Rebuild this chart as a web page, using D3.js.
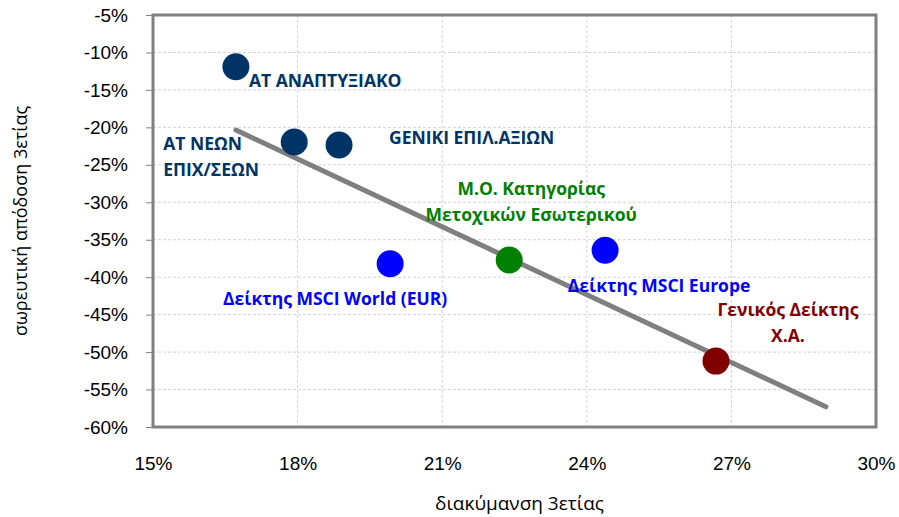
<!DOCTYPE html>
<html>
<head>
<meta charset="utf-8">
<script src="https://cdn.jsdelivr.net/npm/d3@7"></script>
<style>
  body { margin: 0; background: #fff; }
  svg { font-family: "Open Sans", "Noto Sans", sans-serif; }
  .grid line { stroke: #d4d4d4; stroke-dasharray: 3 2; }
  .tick text { font-size: 19px; fill: #000; }
</style>
</head>
<body>
<svg width="899" height="517"></svg>
<script>
// data (x = volatility %, y = 3y cumulative return %)
const names = [
  ["ΑΤ ΑΝΑΠΤΥΞΙΑΚΟ"],
  ["ΑΤ ΝΕΩΝ", "ΕΠΙΧ/ΣΕΩΝ"],
  ["GENIKI ΕΠΙΛ.ΑΞΙΩΝ"],
  ["Δείκτης MSCI World (EUR)"],
  ["Μ.Ο. Κατηγορίας", "Μετοχικών Εσωτερικού"],
  ["Δείκτης MSCI Europe"],
  ["Γενικός Δείκτης", "Χ.Α."]
];
const volatility = [16.72, 17.93, 18.86, 19.92, 22.39, 24.38, 26.68];
const returns = [-11.9, -21.96, -22.36, -38.2, -37.7, -36.4, -51.2];
const trendX = [16.72, 28.96];
const trendY = [-20.35, -57.3];
const xTicks = [15, 18, 21, 24, 27, 30];
const yTicks = [-5, -10, -15, -20, -25, -30, -35, -40, -45, -50, -55, -60];

const colors = ["#003366", "#003366", "#003366", "#0000ff", "#008000", "#0000ff", "#800000"];
// label placement relative to the marker: [dx, dy of first line, anchor]
const labelPos = [
  [13, 15, "start"],
  [-131, 3, "start"],
  [50, -6, "start"],
  [-55, 36, "middle"],
  [22, -70, "middle"],
  [54, 37, "middle"],
  [72, -50, "middle"]
];

const svg = d3.select("svg");
const pLeft = 153, pRight = 876, pTop = 15, pBottom = 427;

const x = d3.scaleLinear().domain([15, 30]).range([pLeft, pRight]);
const y = d3.scaleLinear().domain([-5, -60]).range([pTop, pBottom]);

// gridlines
svg.append("g").attr("class", "grid")
  .selectAll("line").data(yTicks.slice(1, -1)).enter().append("line")
  .attr("x1", pLeft).attr("x2", pRight)
  .attr("y1", d => y(d)).attr("y2", d => y(d));
svg.append("g").attr("class", "grid")
  .selectAll("line").data(xTicks.slice(1, -1)).enter().append("line")
  .attr("y1", pTop).attr("y2", pBottom)
  .attr("x1", d => x(d)).attr("x2", d => x(d));

// axes
const yAxis = svg.append("g")
  .attr("transform", `translate(${pLeft},0)`)
  .call(d3.axisLeft(y).tickValues(yTicks).tickSize(7).tickPadding(18).tickFormat(d => d + "%"));
yAxis.select(".domain").remove();
yAxis.selectAll(".tick line").attr("stroke", "#808080");
yAxis.selectAll(".tick text").attr("x", -25);

const xAxis = svg.append("g")
  .attr("transform", `translate(0,${pBottom})`)
  .call(d3.axisBottom(x).tickValues(xTicks).tickSize(0).tickPadding(30).tickFormat(d => d + "%"));
xAxis.select(".domain").remove();

// plot border
svg.append("rect")
  .attr("x", pLeft).attr("y", pTop)
  .attr("width", pRight - pLeft).attr("height", pBottom - pTop)
  .attr("fill", "none").attr("stroke", "#808080").attr("stroke-width", 3);

// trendline
svg.append("line")
  .attr("x1", x(trendX[0])).attr("y1", y(trendY[0]))
  .attr("x2", x(trendX[1])).attr("y2", y(trendY[1]))
  .attr("stroke", "#7f7f7f").attr("stroke-width", 5).attr("stroke-linecap", "round");

// markers
svg.append("g").selectAll("circle")
  .data(volatility).enter().append("circle")
  .attr("cx", d => x(d))
  .attr("cy", (d, i) => y(returns[i]))
  .attr("r", 13.5)
  .attr("fill", (d, i) => colors[i]);

// labels
const labels = svg.append("g").selectAll("text")
  .data(names).enter().append("text")
  .attr("x", (d, i) => x(volatility[i]) + labelPos[i][0])
  .attr("y", (d, i) => y(returns[i]) + labelPos[i][1])
  .attr("text-anchor", (d, i) => labelPos[i][2])
  .attr("dominant-baseline", "middle")
  .attr("font-size", 17.5)
  .attr("font-weight", "bold")
  .attr("fill", (d, i) => colors[i]);
labels.each(function(d, i) {
  d3.select(this).selectAll("tspan").data(d).enter().append("tspan")
    .attr("x", x(volatility[i]) + labelPos[i][0])
    .attr("dy", (t, j) => j ? 26 : 0)
    .text(t => t);
});

// axis titles
svg.append("text")
  .attr("x", (pLeft + pRight) / 2 + 5).attr("y", 505)
  .attr("text-anchor", "middle").attr("dominant-baseline", "middle")
  .attr("font-size", 19).text("διακύμανση 3ετίας");
svg.append("text")
  .attr("transform", "translate(22,221) rotate(-90)")
  .attr("text-anchor", "middle").attr("dominant-baseline", "middle")
  .attr("font-size", 18).text("σωρευτική απόδοση 3ετίας");
</script>
</body>
</html>
